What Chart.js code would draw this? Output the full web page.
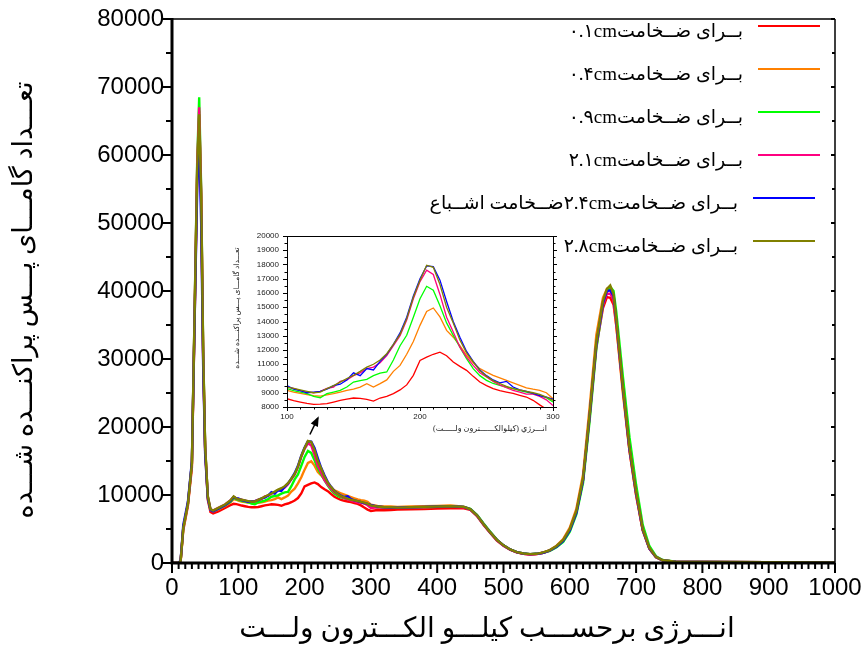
<!DOCTYPE html>
<html><head><meta charset="utf-8">
<script src="https://cdn.jsdelivr.net/npm/chart.js@4.4.1/dist/chart.umd.min.js"></script>
<style>
html,body{margin:0;padding:0;background:#fff;}
#wrap{position:relative;width:861px;height:652px;overflow:hidden;}
#main{position:absolute;left:0;top:0;}
#inset{position:absolute;left:225px;top:226px;}
</style></head><body>
<div id="wrap"><canvas id="main" width="861" height="652"></canvas><canvas id="inset" width="345" height="216"></canvas></div>
<script>
// ---- data (keV, counts) ----
const energy = [0,10,13,17,24,30,34,38,41,44,47,50,54,58,62,70,80,88,93,97,
100,105,110,115,120,125,130,135,140,145,150,155,160,165,170,175,180,185,190,195,200,205,210,215,220,225,230,235,240,245,250,255,260,265,270,275,280,285,290,295,300,
310,320,330,340,360,380,400,420,440,450,460,470,480,490,500,510,520,530,540,550,560,570,580,590,600,610,620,630,640,650,656,661,666,670,680,690,700,710,720,730,740,760,800,900,1000];

const t01 = [0,0,200,4800,8400,14000,35000,57000,65500,53000,30000,16500,9300,7500,7300,7600,8100,8500,8700,8650,
8580,8450,8350,8250,8190,8200,8230,8350,8470,8550,8630,8600,8540,8420,8630,8750,8940,9200,9550,10220,11270,11500,11700,11850,11600,11160,10850,10570,10150,9750,9500,9290,9150,9050,8950,8820,8700,8470,8150,7850,7650,
7800,7750,7800,7850,7900,7950,8000,8050,8050,7800,6900,5600,4400,3300,2550,1950,1550,1350,1250,1300,1500,1850,2450,3300,4900,7500,12200,21500,31800,37500,39100,39000,38000,35000,25500,16500,10000,4800,2100,850,380,200,150,100,80];

const t04 = [0,0,250,5000,8600,14400,35500,57500,66500,53500,30500,16800,9600,7800,7600,7900,8400,8900,9400,9300,
9170,9050,8950,8870,8800,8770,8850,8940,9050,9170,9250,9400,9640,9400,9640,9900,10500,10920,11700,12600,13730,14710,14950,14320,13380,12900,12300,11630,11100,10690,10450,10220,10050,9870,9700,9520,9350,9250,9170,9000,8580,
8400,8300,8300,8250,8300,8350,8400,8450,8300,7950,7000,5700,4500,3400,2600,2000,1600,1400,1300,1350,1550,1900,2550,3500,5200,8000,13000,23000,33500,39000,40300,40200,39000,35000,25000,16500,10000,4800,2100,850,380,200,150,100,80];

const t09 = [0,0,300,5100,8700,14700,36500,59000,68500,55000,31500,17200,9800,7900,7700,8000,8500,9000,9600,9400,
9290,9150,9050,8940,8750,8650,8940,9050,9170,9400,9750,9850,9940,10200,10380,10460,11300,12300,13030,14300,15600,16470,16190,15100,13900,13030,12200,11400,10690,10200,9870,9650,9520,9400,9290,9150,9050,8940,8800,8650,8350,
8200,8150,8150,8100,8150,8200,8250,8300,8250,7950,7100,5800,4600,3450,2600,2000,1600,1400,1300,1350,1500,1800,2300,3100,4600,7200,11800,21000,31500,38000,40000,40600,40000,37000,27500,18500,11500,5600,2500,1000,450,200,150,100,80];

const t21 = [0,0,300,5200,8700,14600,36200,58500,67000,54500,31000,17000,9800,7900,7700,8100,8600,9200,9750,9500,
9400,9300,9150,9050,9000,9100,9300,9400,9800,9900,10200,10400,10700,10800,11100,11600,12300,13000,14100,15600,16800,17600,17300,15900,14300,13260,12200,11500,10920,10400,10100,9800,9550,9350,9170,9050,8900,8900,8750,8500,8100,
8200,8150,8100,8100,8150,8200,8250,8300,8200,7850,6950,5650,4450,3350,2550,1950,1550,1350,1250,1300,1500,1850,2450,3350,4950,7600,12300,21800,32000,38000,39600,39600,38700,35500,25800,16800,10300,4900,2150,880,390,200,150,100,80];

const t24 = [0,0,400,5600,9000,15000,35000,55000,62500,50000,29000,16000,9500,7800,7600,8000,8500,9100,9700,9500,
9500,9250,9150,9000,9050,9100,9250,9500,9600,9900,10400,10200,10700,10600,11200,11700,12400,13200,14300,15800,17000,17900,17850,16900,15400,14000,12900,11900,11200,10600,10200,9900,9700,9800,9400,9200,9100,8950,8800,8700,8550,
8300,8200,8150,8150,8200,8250,8300,8300,8250,7900,7000,5700,4500,3400,2600,2000,1600,1400,1300,1350,1500,1850,2400,3250,4800,7400,12200,21800,32200,38200,40000,40100,39300,35800,25800,16800,10300,4900,2150,880,390,200,150,100,80];

const t28 = [0,0,300,5200,8700,14600,36000,58000,66000,54000,31000,17000,9800,7900,7700,8100,8600,9200,9800,9500,
9400,9300,9200,9100,9000,9050,9290,9500,9750,10000,10220,10500,10800,11000,11300,11740,12400,13100,14200,15700,16900,17950,17800,16600,15000,13900,12700,11800,11160,10550,10150,9850,9650,9450,9290,9200,9100,9000,8880,8700,8470,
8300,8200,8200,8150,8200,8250,8300,8350,8250,7900,7000,5700,4500,3400,2600,2000,1600,1400,1300,1350,1550,1900,2500,3400,5000,7700,12500,22000,32500,38500,40300,40800,39500,36000,26000,17000,10500,5000,2200,900,400,200,150,100,80];

const seriesLabels = [
  'بــرای ضــخامت۰.۱cm',
  'بــرای ضــخامت۰.۴cm',
  'بــرای ضــخامت۰.۹cm',
  'بــرای ضــخامت۲.۱cm',
  'بــرای ضــخامت۲.۴cmضــخامت اشــباع',
  'بــرای ضــخامت۲.۸cm'
];
const seriesColors = ['#ff0000','#ff8000','#00ff00','#ff0080','#0000ff','#808000'];
const xTicks = [0,100,200,300,400,500,600,700,800,900,1000];
const yTicks = [0,10000,20000,30000,40000,50000,60000,70000,80000];
const insetXTicks = [100,200,300];
const insetYTicks = [8000,9000,10000,11000,12000,13000,14000,15000,16000,17000,18000,19000,20000];
const xTitle = 'انـــرژی برحســـب کیلـــو الکـــترون ولـــت';
const yTitle = 'تعـــداد گامـــای پـــس پراکنـــده شـــده';
const insetXTitle = 'انـــرژي (كيلوالكــــــترون ولـــــت)';
const insetYTitle = 'تعـــداد گامـــای پـــس پراکنـــده شـــده';

const seriesValues = [t01,t04,t09,t21,t24,t28];
function makeDatasets(width){
  return seriesValues.map((vals,i)=>({
    label: seriesLabels[i],
    data: energy.map((e,k)=>({x:e,y:vals[k]})),
    borderColor: seriesColors[i],
    borderWidth: width,
    pointRadius: 0,
    fill: false,
    tension: 0,
    order: 5 - i
  }));
}
const AR_FONT = '"Liberation Serif","DejaVu Sans",serif';

// ---- main chart decorations ----
const mainDeco = {
  id: 'mainDeco',
  afterDraw(chart){
    const {ctx, chartArea:a, scales:{x, y}} = chart;
    ctx.save();
    ctx.strokeStyle = '#000';
    ctx.lineWidth = 1.5;
    ctx.beginPath();
    ctx.moveTo(a.left, a.top); ctx.lineTo(a.right, a.top);
    ctx.moveTo(a.right, a.top); ctx.lineTo(a.right, a.bottom);
    ctx.stroke();
    ctx.lineWidth = 3;
    ctx.beginPath();
    ctx.moveTo(a.left, a.top-1); ctx.lineTo(a.left, a.bottom);
    ctx.moveTo(a.left-1.5, a.bottom); ctx.lineTo(a.right, a.bottom);
    ctx.stroke();
    ctx.lineWidth = 2;
    ctx.beginPath();
    for (let v = 0; v <= 80000; v += 5000) {
      const p = Math.round(y.getPixelForValue(v));
      const L = (v % 10000 === 0) ? 11 : 6;
      ctx.moveTo(a.left, p); ctx.lineTo(a.left - L, p);
      ctx.moveTo(a.right, p); ctx.lineTo(a.right - ((v % 10000 === 0) ? 4 : 3), p);
    }
    ctx.stroke();
    ctx.beginPath();
    for (let e = 0; e <= 1000; e += 10) {
      const p = x.getPixelForValue(e);
      const L = (e % 100 === 0) ? 10 : 6;
      ctx.moveTo(p, a.bottom); ctx.lineTo(p, a.bottom + L);
    }
    ctx.stroke();
    // arrow
    const x0 = x.getPixelForValue(208), y0 = y.getPixelForValue(18900);
    const x1 = x.getPixelForValue(220), y1 = y.getPixelForValue(21300);
    ctx.lineWidth = 1.5;
    ctx.beginPath(); ctx.moveTo(x0,y0); ctx.lineTo(x1,y1); ctx.stroke();
    const ang = Math.atan2(y1-y0, x1-x0);
    ctx.fillStyle = '#000';
    ctx.beginPath();
    ctx.moveTo(x1 + 2*Math.cos(ang), y1 + 2*Math.sin(ang));
    ctx.lineTo(x1 - 8*Math.cos(ang) + 4*Math.sin(ang), y1 - 8*Math.sin(ang) - 4*Math.cos(ang));
    ctx.lineTo(x1 - 8*Math.cos(ang) - 4*Math.sin(ang), y1 - 8*Math.sin(ang) + 4*Math.cos(ang));
    ctx.closePath(); ctx.fill();
    // legend
    const legY = [26, 69, 112, 155, 198, 241];
    const legX0 = [758,758,758,758,753,753];
    const legTxt = [743,743,743,743,738,738];
    ctx.font = '19px ' + AR_FONT;
    ctx.direction = 'rtl';
    ctx.textAlign = 'right';
    ctx.textBaseline = 'alphabetic';
    for (let i = 0; i < seriesLabels.length; i++) {
      ctx.strokeStyle = seriesColors[i];
      ctx.lineWidth = 2.2;
      ctx.beginPath(); ctx.moveTo(legX0[i], legY[i]); ctx.lineTo(legX0[i] + 62, legY[i]); ctx.stroke();
      ctx.fillStyle = '#000';
      ctx.fillText(seriesLabels[i], legTxt[i], legY[i] + 11);
    }
    // axis titles
    ctx.fillStyle = '#000';
    ctx.font = '28px ' + AR_FONT;
    ctx.textAlign = 'center';
    ctx.textBaseline = 'middle';
    ctx.fillText(xTitle, 487, 630);
    ctx.translate(25, 300);
    ctx.rotate(-Math.PI/2);
    ctx.font = '27px ' + AR_FONT;
    ctx.fillText(yTitle, 0, 0);
    ctx.restore();
  }
};

new Chart(document.getElementById('main'), {
  type: 'line',
  data: { datasets: makeDatasets(2.4) },
  options: {
    responsive: false, animation: false, devicePixelRatio: 1,
    layout: { padding: { left: 0, top: 19, right: 26, bottom: 0 } },
    plugins: { legend: { display: false }, tooltip: { enabled: false } },
    scales: {
      x: {
        type: 'linear', min: 0, max: 1000,
        grid: { display: false, drawTicks: false }, border: { display: false },
        afterBuildTicks(s){ s.ticks = xTicks.map(v=>({value:v})); },
        ticks: { color: '#000', padding: 11, maxRotation: 0, autoSkip: false,
          font: { family: '"Liberation Sans", Arial, sans-serif', size: 24 }, callback: v => String(v) },
        afterFit(s){ s.height = 89; s.paddingLeft = 0; s.paddingRight = 0; }
      },
      y: {
        type: 'linear', min: 0, max: 80000,
        grid: { display: false, drawTicks: false }, border: { display: false },
        afterBuildTicks(s){ s.ticks = yTicks.map(v=>({value:v})); },
        ticks: { color: '#000', padding: 8, autoSkip: false,
          font: { family: '"Liberation Sans", Arial, sans-serif', size: 24 }, callback: v => String(v) },
        afterFit(s){ s.width = 172; s.paddingTop = 0; s.paddingBottom = 0; }
      }
    }
  },
  plugins: [mainDeco]
});

// ---- inset ----
const insetDeco = {
  id: 'insetDeco',
  afterDraw(chart){
    const {ctx, chartArea:a, scales:{x, y}} = chart;
    ctx.save();
    ctx.strokeStyle = '#000';
    ctx.lineWidth = 1;
    ctx.strokeRect(Math.round(a.left)+0.5, Math.round(a.top)+0.5, Math.round(a.right-a.left), Math.round(a.bottom-a.top));
    ctx.beginPath();
    for (let v = 8000; v <= 20000; v += 500) {
      const p = Math.round(y.getPixelForValue(v)) + 0.5;
      const L = (v % 1000 === 0) ? 4 : 2.5;
      ctx.moveTo(a.left, p); ctx.lineTo(a.left - L, p);
      ctx.moveTo(a.right, p); ctx.lineTo(a.right + L, p);
    }
    for (let e = 100; e <= 300; e += 10) {
      const p = Math.round(x.getPixelForValue(e)) + 0.5;
      const L = (e % 100 === 0) ? 4 : 2.5;
      ctx.moveTo(p, a.bottom); ctx.lineTo(p, a.bottom + L);
    }
    ctx.stroke();
    ctx.fillStyle = '#222';
    ctx.direction = 'rtl';
    ctx.textAlign = 'center';
    ctx.textBaseline = 'middle';
    ctx.font = '8px ' + AR_FONT;
    ctx.fillText(insetXTitle, 265, 203);
    ctx.translate(12, 82);
    ctx.rotate(-Math.PI/2);
    ctx.font = '7.5px ' + AR_FONT;
    ctx.fillText(insetYTitle, 0, 0);
    ctx.restore();
  }
};

new Chart(document.getElementById('inset'), {
  type: 'line',
  data: { datasets: makeDatasets(1.3) },
  options: {
    responsive: false, animation: false, devicePixelRatio: 1,
    layout: { padding: { left: 0, top: 10, right: 17, bottom: 0 } },
    plugins: { legend: { display: false }, tooltip: { enabled: false } },
    scales: {
      x: {
        type: 'linear', min: 100, max: 300,
        grid: { display: false, drawTicks: false }, border: { display: false },
        afterBuildTicks(s){ s.ticks = insetXTicks.map(v=>({value:v})); },
        ticks: { color: '#222', padding: 5, maxRotation: 0, autoSkip: false,
          font: { family: '"Liberation Sans", Arial, sans-serif', size: 8 }, callback: v => String(v) },
        afterFit(s){ s.height = 35; s.paddingLeft = 0; s.paddingRight = 0; }
      },
      y: {
        type: 'linear', min: 8000, max: 20000,
        grid: { display: false, drawTicks: false }, border: { display: false },
        afterBuildTicks(s){ s.ticks = insetYTicks.map(v=>({value:v})); },
        ticks: { color: '#222', padding: 8, autoSkip: false,
          font: { family: '"Liberation Sans", Arial, sans-serif', size: 8 }, callback: v => String(v) },
        afterFit(s){ s.width = 62; s.paddingTop = 0; s.paddingBottom = 0; }
      }
    }
  },
  plugins: [insetDeco]
});
</script>
</body></html>
